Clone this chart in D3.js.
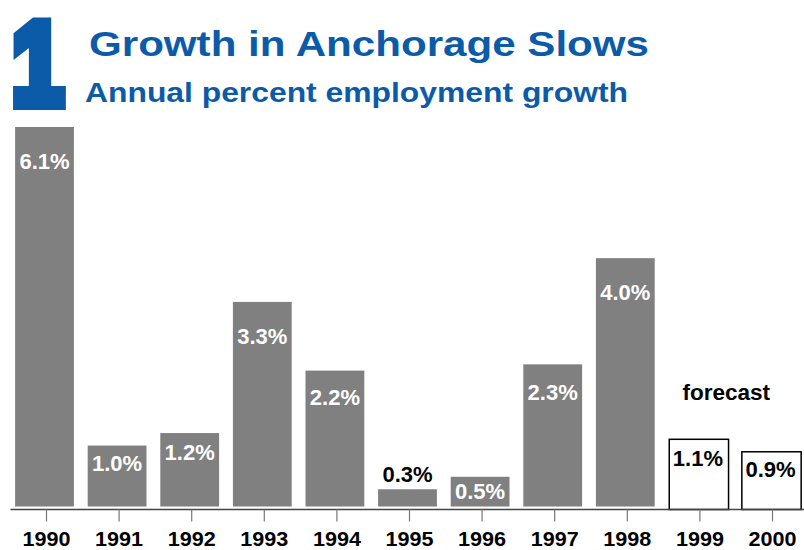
<!DOCTYPE html>
<html>
<head>
<meta charset="utf-8">
<script src="https://cdn.jsdelivr.net/npm/d3@7"></script>
<style>
  html, body { margin: 0; padding: 0; background: #fff; }
  svg { display: block; font-family: "Liberation Sans", Arial, sans-serif; }
</style>
</head>
<body>
<div id="chart"></div>
<script>
// chart data
const years = ['1990', '1991', '1992', '1993', '1994', '1995', '1996', '1997', '1998', '1999', '2000'];
const growth = [6.1, 1.0, 1.2, 3.3, 2.2, 0.3, 0.5, 2.3, 4.0, 1.1, 0.9];
const forecastYears = ['1999', '2000'];
const valueLabels = ['6.1%', '1.0%', '1.2%', '3.3%', '2.2%', '0.3%', '0.5%', '2.3%', '4.0%', '1.1%', '0.9%'];

const width = 804;
const height = 550;
const blue = '#0b5ba8';
const grey = '#808080';

const svg = d3.select('#chart')
  .append('svg')
  .attr('width', width)
  .attr('height', height);

// big figure number
svg.append('text')
  .attr('transform', 'translate(12,104) scale(0.8,1)')
  .style('font-size', '116px')
  .style('font-weight', 'bold')
  .style('fill', blue)
  .style('stroke', blue)
  .style('stroke-width', 12)
  .style('stroke-linejoin', 'miter')
  .text('1');

svg.append('text')
  .attr('x', 89)
  .attr('y', 56)
  .attr('textLength', 560)
  .attr('lengthAdjust', 'spacingAndGlyphs')
  .style('font-size', '35px')
  .style('font-weight', 'bold')
  .style('fill', blue)
  .text('Growth in Anchorage Slows');

svg.append('text')
  .attr('x', 85)
  .attr('y', 101.5)
  .attr('textLength', 543)
  .attr('lengthAdjust', 'spacingAndGlyphs')
  .style('font-size', '28px')
  .style('font-weight', 'bold')
  .style('fill', blue)
  .text('Annual percent employment growth');

const x = d3.scaleBand()
  .domain(years)
  .range([8.2, 806.8])
  .paddingInner(0.19)
  .paddingOuter(0.095);

const y = d3.scaleLinear()
  .domain([0, 6.1])
  .range([508, 127]);

const axisY = 509.5;
const data = years.map((yr, i) => ({
  year: yr,
  value: growth[i],
  label: valueLabels[i],
  forecast: forecastYears.includes(yr)
}));

// bars
svg.selectAll('rect.bar')
  .data(data)
  .enter()
  .append('rect')
  .attr('class', 'bar')
  .attr('x', d => d.forecast ? x(d.year) + 0.75 : x(d.year))
  .attr('width', d => d.forecast ? x.bandwidth() + 0.5 : x.bandwidth())
  .attr('y', d => y(d.value))
  .attr('height', d => d.forecast ? axisY - y(d.value) : y(0) - y(d.value) - 1.5)
  .style('fill', d => d.forecast ? '#fff' : grey)
  .style('stroke', d => d.forecast ? '#000' : 'none')
  .style('stroke-width', 1.5);

// value labels
const barH = d => y(0) - y(d.value);
svg.selectAll('text.val')
  .data(data)
  .enter()
  .append('text')
  .attr('class', 'val')
  .attr('x', d => x(d.year) + x.bandwidth() / 2)
  .attr('y', d => barH(d) < 22 ? y(d.value) - 7 : y(d.value) + Math.min(42, 18 + barH(d) * 0.12))
  .attr('text-anchor', 'middle')
  .style('font-size', '22px')
  .style('font-weight', 'bold')
  .style('fill', d => (d.forecast || barH(d) < 22) ? '#000' : '#fff')
  .text(d => d.label);

svg.append('text')
  .attr('x', x(forecastYears[0]) + 14)
  .attr('y', y(d3.max(data.filter(d => d.forecast), d => d.value)) - 39)
  .style('font-size', '22.5px')
  .style('font-weight', 'bold')
  .style('fill', '#000')
  .text('forecast');

// axis
svg.append('line')
  .attr('x1', 10.5)
  .attr('x2', width)
  .attr('y1', axisY)
  .attr('y2', axisY)
  .style('stroke', '#444')
  .style('stroke-width', 1.5);

svg.selectAll('line.tick')
  .data(years)
  .enter()
  .append('line')
  .attr('class', 'tick')
  .attr('x1', d => x(d) + x.bandwidth() / 2 + 2)
  .attr('x2', d => x(d) + x.bandwidth() / 2 + 2)
  .attr('y1', axisY)
  .attr('y2', axisY + 12)
  .style('stroke', '#777')
  .style('stroke-width', 1.2);

svg.selectAll('text.year')
  .data(years)
  .enter()
  .append('text')
  .attr('class', 'year')
  .attr('x', d => x(d) + x.bandwidth() / 2 + 2)
  .attr('y', 545.5)
  .attr('text-anchor', 'middle')
  .attr('textLength', 48)
  .attr('lengthAdjust', 'spacingAndGlyphs')
  .style('font-size', '21px')
  .style('font-weight', 'bold')
  .style('fill', '#000')
  .text(d => d);
</script>
</body>
</html>
